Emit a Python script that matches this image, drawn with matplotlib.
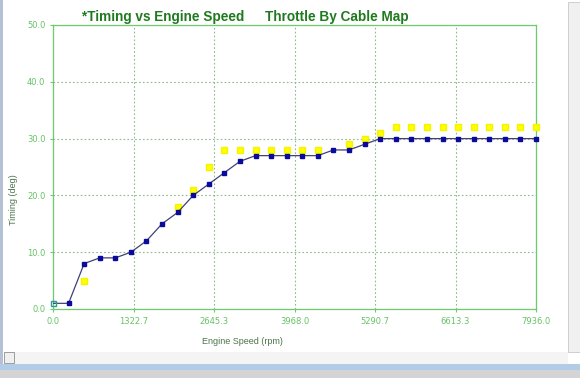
import numpy as np
import matplotlib
matplotlib.use('Agg')
import matplotlib.pyplot as plt
from matplotlib.patches import Rectangle

# engine speed breakpoints (rpm), 32 columns of 256 rpm
rpm = np.arange(32) * 256
timing = [1, 1, 8, 9, 9, 10, 12, 15, 17, 20, 22, 24, 26, 27, 27, 27,
          27, 27, 28, 28, 29, 30, 30, 30, 30, 30, 30, 30, 30, 30, 30, 30]
reference = [1, 1, 5, 9, 9, 10, 12, 15, 18, 21, 25, 28, 28, 28, 28, 28,
             28, 28, 28, 29, 30, 31, 32, 32, 32, 32, 32, 32, 32, 32, 32, 32]
x_ticks = np.linspace(0, 7936, 7)
y_ticks = [0, 10, 20, 30, 40, 50]

W, H = 580, 378
fig = plt.figure(figsize=(W / 100, H / 100), dpi=100)
fig.patch.set_facecolor('white')

def px(x0, y0, x1, y1, **kw):
    fig.patches.append(Rectangle((x0 / W, 1 - y1 / H), (x1 - x0) / W, (y1 - y0) / H,
                                 transform=fig.transFigure, **kw))

# window chrome
px(0, 0, 3, 365, facecolor='#b4c0d4', edgecolor='none')
px(568, 2, 580, 352, facecolor='#f0f0f0', edgecolor='#c8c8c8', lw=0.6)
px(4, 352, 568, 364, facecolor='#f4f4f4', edgecolor='none')
px(4, 352, 14, 363, facecolor='#f0f0f0', edgecolor='#909090', lw=0.6)
px(0, 364, 580, 370, facecolor='#b0cce6', edgecolor='none')
px(0, 370, 580, 378, facecolor='#d4d4d4', edgecolor='none')

ax = fig.add_axes([53 / W, 1 - 309 / H, 483 / W, 284 / H])
green = '#6ccc6c'
ax.set_xlim(0, 7936)
ax.set_ylim(0, 50)
ax.set_xticks(x_ticks)
ax.set_yticks(y_ticks)
ax.set_xticklabels([f'{v:.1f}' for v in x_ticks])
ax.set_yticklabels([f'{v:.1f}' for v in y_ticks])
ax.tick_params(colors=green, labelsize=6, length=2, labelcolor='#66c266')
for s in ax.spines.values():
    s.set_color(green)
    s.set_linewidth(0.9)
ax.grid(True, color='#90b890', linestyle=(0, (1.5, 2)), linewidth=0.8)

# reference points only show where they differ from the current map
ref = np.array(reference, dtype=float)
ref_shown = np.where(ref == np.array(timing), np.nan, ref)
ax.plot(rpm, ref_shown, 's', color='#ffff00', ms=4.2, mec='#f4f400', clip_on=False, zorder=3)
ax.plot(rpm, timing, '-', color='#404078', lw=0.9, zorder=4)
ax.plot(rpm[1:], timing[1:], 's', color='#0a0a9c', ms=3.3, clip_on=False, zorder=5)
ax.plot(rpm[:1], timing[:1], 's', mfc='none', mec='#2a9a9a', mew=1, ms=3.6, clip_on=False, zorder=5)

fig.text(242 / W, 1 - 341 / H, 'Engine Speed (rpm)', ha='center', va='center',
         fontsize=6.5, color='#4a744a', family='Liberation Sans')
fig.text(14 / W, 1 - 200 / H, 'Timing (deg)', ha='center', va='center', rotation=90,
         fontsize=6.5, color='#4a744a', family='Liberation Sans')
fig.text(82 / W, 1 - 17 / H, '*Timing vs Engine Speed', ha='left', va='center',
         fontsize=9.8, fontweight='bold', color='#1f7a1f', family='Liberation Sans')
fig.text(265 / W, 1 - 17 / H, 'Throttle By Cable Map', ha='left', va='center',
         fontsize=9.8, fontweight='bold', color='#1f7a1f', family='Liberation Sans')

fig.savefig('out.png', dpi=100)
